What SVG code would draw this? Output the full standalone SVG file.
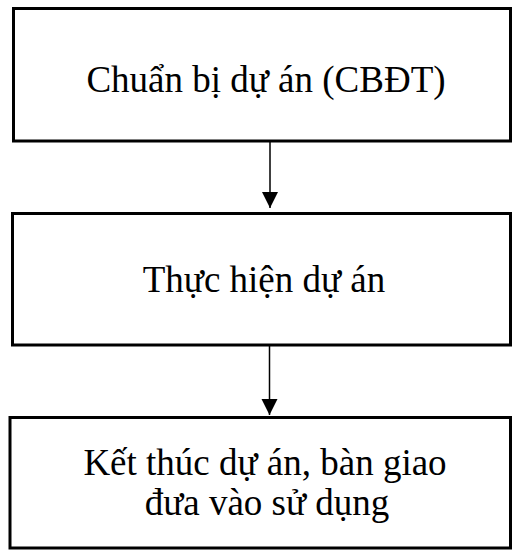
<svg xmlns="http://www.w3.org/2000/svg" width="512" height="550" viewBox="0 0 512 550">
<style>
.box{fill:#fff;stroke:#000;stroke-width:3}
.t{font-family:"Liberation Serif","Times New Roman",serif;font-size:37px;fill:#000;text-anchor:middle}
.c{stroke:#000;stroke-width:1.5;fill:none}
</style>
<defs>
<marker id="ah" markerWidth="16" markerHeight="17" refX="16" refY="8" orient="auto" markerUnits="userSpaceOnUse" viewBox="0 0 16 16">
<path d="M0,0 L16,8 L0,16 Z" fill="#000"/>
</marker>
</defs>
<rect width="512" height="550" fill="#fff"/>
<g id="n1">
<rect class="box" x="13.5" y="8.5" width="497" height="132.5"/>
<text class="t" x="266" y="92">Chuẩn bị dự án (CBĐT)</text>
</g>
<g id="n2">
<rect class="box" x="12.5" y="213.5" width="498" height="131.5"/>
<text class="t" x="264" y="292">Thực hiện dự án</text>
</g>
<g id="n3">
<rect class="box" x="10" y="417.5" width="500.5" height="130.5"/>
<text class="t" x="265" y="475">Kết thúc dự án, bàn giao</text>
<text class="t" x="267" y="515">đưa vào sử dụng</text>
</g>
<g id="connectors">
<line class="c" x1="270" y1="142" x2="270" y2="208" marker-end="url(#ah)"/>
<line class="c" x1="269.5" y1="346" x2="269.5" y2="415" marker-end="url(#ah)"/>
</g>
</svg>
